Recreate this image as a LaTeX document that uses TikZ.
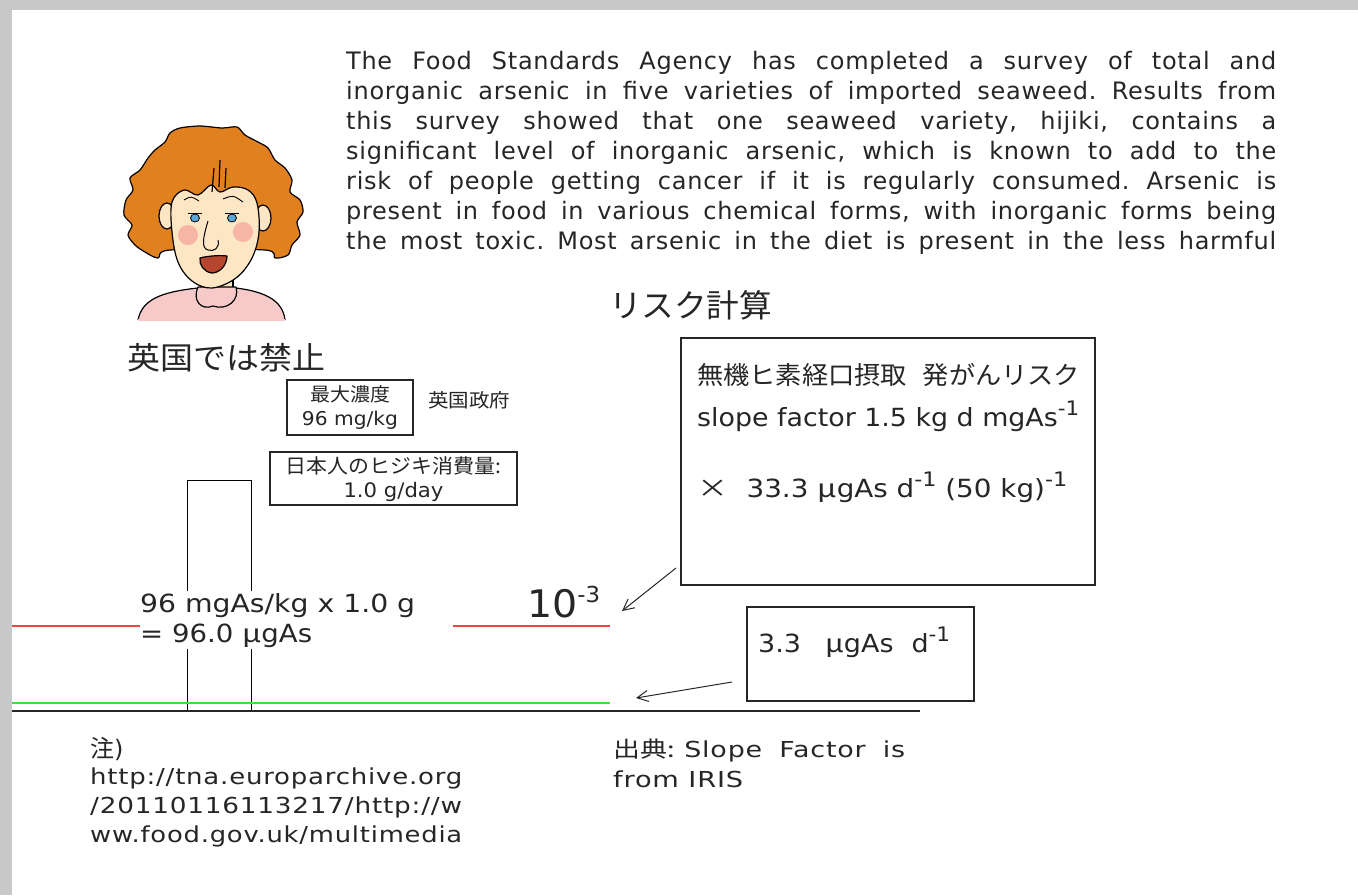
\documentclass[tikz,border=0pt]{standalone}
\usepackage{fontspec}
\usepackage{graphicx}
\usetikzlibrary{arrows.meta}
\setmainfont{DejaVu Sans}
\newfontfamily\verd{DejaVu Sans}
\newfontfamily\verdw{DejaVu Sans}[LetterSpace=3]
\newfontfamily\tah{DejaVu Sans}[FakeStretch=0.9]
\newfontfamily\jp{Noto Sans CJK JP}
\definecolor{ink}{HTML}{262626}
\definecolor{framegray}{HTML}{C8C8C8}
\definecolor{hair}{HTML}{E0801F}
\definecolor{skin}{HTML}{FDE6C4}
\definecolor{cheek}{HTML}{F5A59C}
\definecolor{shirt}{HTML}{F7CACA}
\definecolor{mouth}{HTML}{B5452C}
\definecolor{iris}{HTML}{5AA7D8}
\definecolor{limitred}{HTML}{F04444}
\definecolor{doseg}{HTML}{3CE03C}
\frenchspacing
% stretch a line to a given width (justify), or squeeze it if it is too long
\newsavebox\fitbox
\newcommand\fitline[2]{\sbox\fitbox{#2}\ifdim\wd\fitbox>#1\relax\resizebox{#1}{\height}{\usebox\fitbox}\else\makebox[#1][s]{#2}\fi}
% scale a line horizontally to a given width
\newcommand\sx[2]{\resizebox{#1}{\height}{#2}}
\begin{document}
\begin{tikzpicture}[x=1pt,y=-1pt,
  txt/.style={inner sep=0pt,text=ink},
  para/.style={txt,anchor=base west,font=\verdw\fontsize{24}{28}\selectfont},
  valbox/.style={draw=ink,line width=1.6pt,inner sep=0pt},
  barline/.style={draw=black,line width=1.3pt},
  pointer/.style={draw=ink,line width=1pt,-{Straight Barb[length=11pt,width=11pt,line width=1pt]}},
  outline/.style={draw=black,line width=1.2pt,line join=round}]
\fill[framegray] (0,0) rectangle (1358,895);
\fill[white] (12,10) rectangle (1358,895);
\useasboundingbox (0,0) rectangle (1358,895);

% paragraph
\node[para] (p1) at (346,69) {\fitline{930pt}{The Food Standards Agency has completed a survey of total and}};
\node[para] (p2) at (346,99) {\fitline{930pt}{inorganic arsenic in five varieties of imported seaweed. Results from}};
\node[para] (p3) at (346,129) {\fitline{930pt}{this survey showed that one seaweed variety, hijiki, contains a}};
\node[para] (p4) at (346,159) {\fitline{930pt}{significant level of inorganic arsenic, which is known to add to the}};
\node[para] (p5) at (346,189) {\fitline{930pt}{risk of people getting cancer if it is regularly consumed. Arsenic is}};
\node[para] (p6) at (346,219) {\fitline{930pt}{present in food in various chemical forms, with inorganic forms being}};
\node[para] (p7) at (346,249) {\fitline{930pt}{the most toxic. Most arsenic in the diet is present in the less harmful}};

% cartoon of a woman
\begin{scope}
\filldraw[outline,fill=hair] plot[smooth cycle,tension=0.5] coordinates {
 (180,128) (200,126) (222,128) (237,127) (245,135) (258,142) (268,148) (275,160)
 (285,168) (292,180) (290,192) (300,200) (303,212) (297,222) (300,235) (292,245)
 (288,255) (275,258) (265,250) (170,250) (158,258) (145,252) (135,245) (128,235)
 (132,225) (124,215) (126,200) (133,190) (130,178) (140,170) (148,158) (155,150)
 (165,142) (170,133)};
\filldraw[outline,fill=skin] (201,276) rectangle (233,296);
\filldraw[outline,fill=shirt] (138,320) .. controls (142,300) and (160,292) .. (198,288)
  -- (236,288) .. controls (268,292) and (283,302) .. (285,320);
\fill[shirt] (138,319) rectangle (285,321);
\filldraw[outline,fill=shirt] (198,287) .. controls (192,300) and (201,311) .. (213,306)
  .. controls (227,311) and (240,300) .. (236,287) -- cycle;
\filldraw[outline,fill=skin] (167,216) ellipse (8 and 13);
\filldraw[outline,fill=skin] (263,218) ellipse (8 and 13);
\filldraw[outline,fill=skin] plot[smooth cycle,tension=0.6] coordinates {
 (172,202) (184,190) (198,195) (211,185) (220,192) (233,187) (248,190) (257,203)
 (259,232) (252,258) (236,278) (212,288) (192,281) (178,262) (172,232)};
\draw[outline] (214,168) -- (212,192) (220,160) -- (219,187) (226,168) -- (225,188);
\fill[cheek,opacity=0.75] (188,235) circle (10) (243,232) circle (10);
\draw[outline,line width=0.9pt] (184,200) .. controls (191,196) .. (199,201)
  (223,199) .. controls (233,195) .. (243,202);
\filldraw[draw=black,line width=0.8pt,fill=iris] (195,218) ellipse (4.5 and 4);
\filldraw[draw=black,line width=0.8pt,fill=iris] (232,218) ellipse (4.5 and 4);
\draw[outline,line width=0.9pt] (188,213) -- (202,213) (225,213) -- (239,213);
\draw[outline,line width=1pt] (208,221) .. controls (203,238) and (201,248) .. (208,250)
  .. controls (214,252) and (220,248) .. (218,240);
\filldraw[outline,fill=mouth] (200,258) .. controls (207,256) and (220,255) .. (227,256)
  .. controls (227,266) and (219,273) .. (212,273) .. controls (204,272) and (199,265) .. (200,258) -- cycle;
\end{scope}

% headings
\node[txt,anchor=base] (ban) at (226,369.5) {\sx{198pt}{\jp\fontsize{31}{31}\selectfont 英国では禁止}};
\node[txt,anchor=base] (title) at (690.5,317) {\sx{163pt}{\jp\fontsize{32}{32}\selectfont リスク計算}};

% value boxes
\node[valbox,minimum width=126pt,minimum height=55pt] (maxc) at (350,407.5) {};
\node[txt,anchor=base] (maxc1) at (maxc.center |- 0,401) {\sx{80pt}{\jp\fontsize{19}{19}\selectfont 最大濃度}};
\node[txt,anchor=base] (maxc2) at (maxc.center |- 0,425) {\sx{96pt}{\tah\fontsize{19}{19}\selectfont 96 mg/kg}};
\node[txt,anchor=base west] (gov) at (428,407) {\sx{82pt}{\jp\fontsize{19}{19}\selectfont 英国政府}};
\node[valbox,minimum width=247pt,minimum height=53pt] (cons) at (393.5,478.5) {};
\node[txt,anchor=base] (cons1) at (cons.center |- 0,473.5) {\sx{215pt}{\jp\fontsize{20}{20}\selectfont 日本人のヒジキ消費量:}};
\node[txt,anchor=base] (cons2) at (cons.center |- 0,497) {\sx{100pt}{\tah\fontsize{20}{20}\selectfont 1.0 g/day}};

% intake bar and reference lines
\node[barline,minimum width=64pt,minimum height=230pt,inner sep=0pt,anchor=south west] (bar) at (187,711) {};
\coordinate (redL0) at (12,626);  \coordinate (redL1) at (140,626);
\coordinate (redR0) at (453,626); \coordinate (redR1) at (610,626);
\coordinate (grn0) at (12,703);   \coordinate (grn1) at (610,703);
\coordinate (base0) at (12,711);  \coordinate (base1) at (920,711);
\draw[limitred,line width=1.8pt] (redL0) -- (redL1) (redR0) -- (redR1);
\draw[doseg,line width=2.2pt] (grn0) -- (grn1);
\draw[ink,line width=1.8pt] (base0) -- (base1);

% intake calculation
\node[fill=white,inner xsep=0pt,inner ysep=2pt,anchor=north west,align=left,text=ink,
  font=\tah\fontsize{25}{30}\selectfont] (calc) at (140,591)
  {\sx{275pt}{96 mgAs/kg x 1.0 g}\\\sx{172pt}{= 96.0 {\jp μ}gAs}};

% risk result
\node[txt,anchor=base west] (risk) at (527,617) {\sx{73pt}{\tah\fontsize{38}{38}\selectfont 10\raisebox{15pt}{\fontsize{22}{22}\selectfont -3}}};

% risk calculation box
\node[valbox,line width=1.4pt,minimum width=414pt,minimum height=247pt] (calcbox) at (888,461.5) {};
\node[txt,anchor=base west] (cb1) at (697,384) {\sx{383pt}{\jp\fontsize{25}{25}\selectfont 無機ヒ素経口摂取\hspace{0.6em}発がんリスク}};
\node[txt,anchor=base west] (cb2) at (697,426) {\sx{382pt}{\tah\fontsize{25}{25}\selectfont slope factor 1.5 kg d mgAs\raisebox{11pt}{\fontsize{20}{20}\selectfont -1}}};
\node[txt,anchor=base west] (cb3) at (697,497) {\sx{370pt}{\tah\fontsize{25}{25}\selectfont {\jp ×}\hspace{0.6em}33.3 {\jp μ}gAs d\raisebox{11pt}{\fontsize{20}{20}\selectfont -1} (50 kg)\raisebox{11pt}{\fontsize{20}{20}\selectfont -1}}};

% daily intake box
\node[valbox,line width=1.6pt,minimum width=227pt,minimum height=94pt] (dose) at (860.5,654) {};
\node[txt,anchor=base west] (dose1) at (758,652) {\sx{192pt}{\tah\fontsize{25}{25}\selectfont 3.3\hspace{0.8em}{\jp μ}gAs\hspace{0.6em}d\raisebox{11pt}{\fontsize{20}{20}\selectfont -1}}};

% pointers
\coordinate (a1) at (676,568); \coordinate (t1) at (622,611);
\coordinate (a2) at (732,682); \coordinate (t2) at (636,698);
\draw[pointer] (a1) -- (t1);
\draw[pointer] (a2) -- (t2);

% notes
\node[txt,anchor=base west] (note) at (90,757) {{\jp\fontsize{24}{24}\selectfont 注}{\verd\fontsize{24}{24}\selectfont )}};
\node[txt,anchor=base west] (url1) at (90,784) {\sx{372pt}{\verdw\fontsize{22}{22}\selectfont http://tna.europarchive.org}};
\node[txt,anchor=base west] (url2) at (90,813) {\sx{372pt}{\verdw\fontsize{22}{22}\selectfont /20110116113217/http://w}};
\node[txt,anchor=base west] (url3) at (90,842) {\sx{372pt}{\verdw\fontsize{22}{22}\selectfont ww.food.gov.uk/multimedia}};
\node[txt,anchor=base west] (src1) at (613,757) {\sx{292pt}{\verdw\fontsize{22}{22}\selectfont {\jp 出典:}\hspace{8pt}Slope\hspace{14pt}Factor\hspace{14pt}is}};
\node[txt,anchor=base west] (src2) at (613,787) {\sx{130pt}{\verdw\fontsize{22}{22}\selectfont from IRIS}};
\end{tikzpicture}
\end{document}
